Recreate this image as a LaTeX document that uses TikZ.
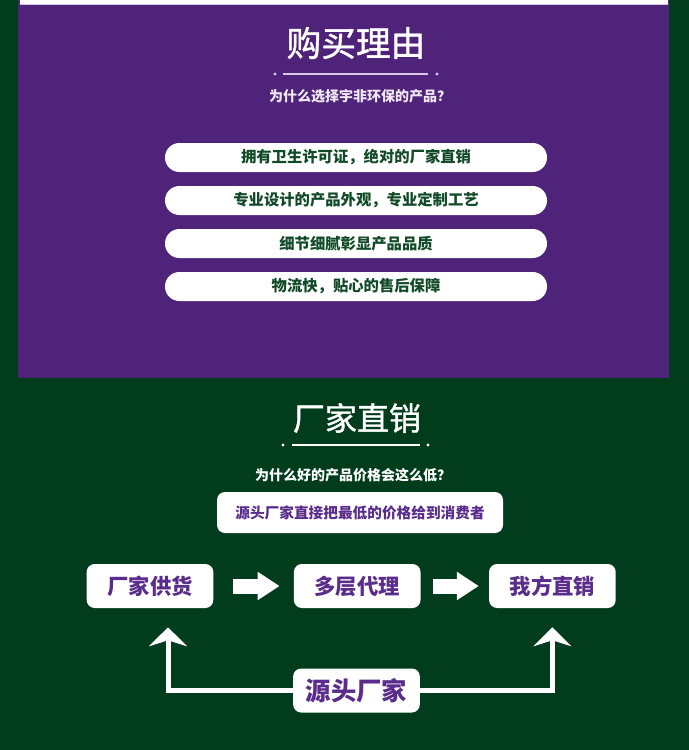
\documentclass[tikz,border=0pt]{standalone}
\usepackage{fontspec}
\setmainfont{Noto Sans CJK SC}
\newfontfamily\titlefont[FakeBold=1.2]{Noto Sans CJK SC}
\usetikzlibrary{arrows.meta,positioning}
\definecolor{bggreen}{RGB}{1,61,29}
\definecolor{panelpurple}{RGB}{80,35,122}
\definecolor{txtgreen}{RGB}{16,74,38}
\definecolor{txtpurple}{RGB}{90,44,140}
\definecolor{linelav}{RGB}{214,200,230}

\tikzset{
  reason/.style={fill=white, rounded corners=10.8pt, minimum width=286.5pt, minimum height=21.75pt, inner sep=0pt, text=txtgreen, font=\fontsize{11.5}{13}\selectfont\bfseries},
  flowbox/.style={fill=white, rounded corners=6pt, minimum width=95pt, minimum height=33pt, inner sep=0pt, text=txtpurple, font=\fontsize{16}{18}\selectfont\bfseries},
  blockarrow/.style={white, line width=11.25pt, -{Triangle[length=16.5pt,width=20.25pt]}},
  backarrow/.style={white, line width=3.75pt, -{Stealth[length=14.25pt,width=28.5pt,inset=4.5pt]}},
}

\begin{document}
\begin{tikzpicture}[x=0.75pt,y=0.75pt,yscale=-1,xscale=1]
\useasboundingbox (0,0) rectangle (689,750);
\fill[bggreen] (0,0) rectangle (689,750);

%Purple panel
\fill[panelpurple] (18,0) rectangle (669,378);
\fill[white] (20,0) rectangle (668,4);
\draw[linelav, line width=0.75pt] (20,4.5) -- (668,4.5);

% Title Node
\node[text=white, font=\titlefont\fontsize{26}{28}\selectfont] (buytitle) at (356,43) {购买理由};
\draw[linelav, line width=1.5pt] (283,74) -- (428,74);
\fill[linelav] (275,74) circle[radius=1.2pt] (437,74) circle[radius=1.2pt];
% Text Node
\node[text=linelav!40!white, font=\fontsize{10.5}{12}\selectfont\bfseries] (buyq) at (360,96) {为什么选择宇非环保的产品？};

%Reasons
\foreach \txt [count=\i] in {拥有卫生许可证，绝对的厂家直销, 专业设计的产品外观，专业定制工艺, 细节细腻彰显产品品质, 物流快，贴心的售后保障}
  \node[reason] (r\i) at (356,{114.5+43*\i}) {\txt};

% Title Node
\node[text=white, font=\titlefont\fontsize{24}{26}\selectfont] (directtitle) at (357,418) {厂家直销};
\draw[white, line width=1.5pt] (292,445) -- (420,445);
\fill[white] (283,445) circle[radius=1.2pt] (428,445) circle[radius=1.2pt];
% Text Node
\node[text=white, font=\fontsize{10.5}{12}\selectfont\bfseries] (lowq) at (353,475) {为什么好的产品价格会这么低？};
\node[fill=white, rounded corners=6pt, minimum width=214.5pt, minimum height=30.75pt, inner sep=0pt, text=txtpurple, font=\fontsize{11}{13}\selectfont\bfseries] (msg) at (360,512.5) {源头厂家直接把最低的价格给到消费者};

%Flow
\node[flowbox] (supply) at (150,586) {厂家供货};
\node[flowbox, right=60pt of supply] (agent) {多层代理};
\node[flowbox, right=51pt of agent] (direct) {我方直销};
\node[flowbox, font=\fontsize{19}{21}\selectfont\bfseries] (source) at (356.5,690.5) {源头厂家};

\draw[blockarrow, shorten <=14.25pt, shorten >=10.5pt] (supply) -- (agent);
\draw[blockarrow, shorten <=9pt, shorten >=7.5pt] (agent) -- (direct);
\draw[backarrow, shorten >=14.25pt] (source.west) -| ([xshift=13.5pt]supply.south);
\draw[backarrow, shorten >=14.25pt] (source.east) -| (direct.south);

\end{tikzpicture}
\end{document}
